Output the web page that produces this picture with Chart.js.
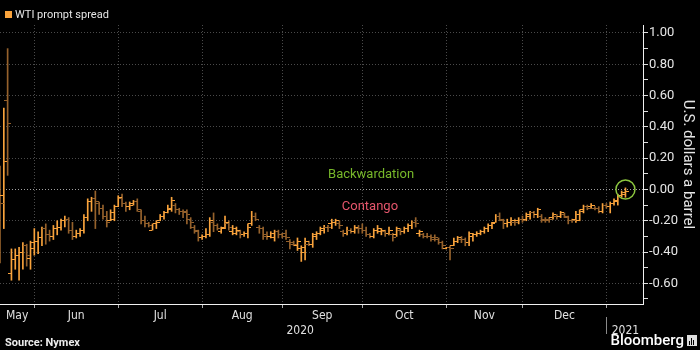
<!DOCTYPE html>
<html>
<head>
<meta charset="utf-8">
<script src="https://cdn.jsdelivr.net/npm/chart.js@4.4.0/dist/chart.umd.min.js"></script>
<style>
  html, body { margin: 0; padding: 0; background: #000; }
  #wrap { width: 700px; height: 350px; }
</style>
</head>
<body>
<div id="wrap"><canvas id="chart" width="700" height="350"></canvas></div>
<script>
// daily OHLC of the WTI prompt spread, one entry per trading day (May 18 2020 .. Jan 11 2021)
const opens = [
  -0.05, -0.04, 0.57, -0.54, -0.45, -0.42, -0.40, -0.36, -0.44,
  -0.38, -0.33, -0.31, -0.25, -0.29, -0.30, -0.25, -0.24, -0.20, -0.19, -0.26, -0.30, -0.28, -0.26, -0.18, -0.08, -0.06, -0.09, -0.12, -0.17, -0.20, -0.19,
  -0.11, -0.06, -0.09, -0.11, -0.09, -0.08, -0.14, -0.20, -0.22, -0.26, -0.22, -0.20, -0.17, -0.15, -0.13, -0.10, -0.13, -0.14, -0.15, -0.19, -0.24, -0.27,
  -0.31, -0.30, -0.29, -0.21, -0.23, -0.27, -0.24, -0.22, -0.27, -0.28, -0.27, -0.29, -0.28, -0.22, -0.17, -0.24, -0.25, -0.29, -0.30, -0.31, -0.27,
  -0.29, -0.28, -0.33, -0.34, -0.36, -0.38, -0.40, -0.35, -0.35, -0.30, -0.28, -0.26, -0.24, -0.22, -0.21, -0.22, -0.27, -0.28, -0.26, -0.27, -0.25,
  -0.25, -0.26, -0.29, -0.30, -0.26, -0.27, -0.27, -0.28, -0.29, -0.29, -0.26, -0.27, -0.25, -0.23, -0.21, -0.28, -0.29, -0.30, -0.30, -0.31, -0.32, -0.34,
  -0.38, -0.37, -0.36, -0.33, -0.32, -0.32, -0.34, -0.30, -0.29, -0.28, -0.27, -0.25, -0.23, -0.21, -0.17, -0.20, -0.22, -0.21, -0.21, -0.20,
  -0.19, -0.19, -0.17, -0.15, -0.16, -0.17, -0.19, -0.19, -0.18, -0.17, -0.17, -0.16, -0.18, -0.20, -0.19, -0.20, -0.13, -0.11, -0.11, -0.12, -0.12, -0.14,
  -0.10, -0.11, -0.09, -0.08, -0.04, -0.03
];
const highs = [
  0.15, 0.52, 0.90, -0.38, -0.38, -0.37, -0.34, -0.35, -0.33,
  -0.25, -0.27, -0.24, -0.22, -0.26, -0.23, -0.20, -0.19, -0.17, -0.18, -0.21, -0.26, -0.25, -0.16, -0.06, -0.05, -0.01, -0.08, -0.10, -0.14, -0.13, -0.10,
  -0.04, -0.03, -0.08, -0.08, -0.07, -0.06, -0.13, -0.17, -0.21, -0.22, -0.20, -0.16, -0.14, -0.10, -0.05, -0.09, -0.12, -0.13, -0.13, -0.18, -0.23, -0.26,
  -0.29, -0.25, -0.18, -0.15, -0.22, -0.24, -0.17, -0.20, -0.23, -0.24, -0.26, -0.27, -0.22, -0.14, -0.15, -0.23, -0.24, -0.27, -0.27, -0.26, -0.26,
  -0.28, -0.26, -0.32, -0.33, -0.31, -0.36, -0.31, -0.33, -0.28, -0.27, -0.24, -0.23, -0.23, -0.19, -0.19, -0.20, -0.26, -0.24, -0.25, -0.23, -0.23,
  -0.22, -0.24, -0.28, -0.25, -0.23, -0.25, -0.26, -0.24, -0.28, -0.24, -0.25, -0.24, -0.22, -0.20, -0.18, -0.26, -0.28, -0.28, -0.29, -0.29, -0.31, -0.33,
  -0.37, -0.36, -0.31, -0.30, -0.30, -0.31, -0.27, -0.28, -0.27, -0.26, -0.24, -0.22, -0.21, -0.16, -0.15, -0.19, -0.19, -0.18, -0.19, -0.18,
  -0.17, -0.15, -0.14, -0.14, -0.12, -0.16, -0.18, -0.18, -0.15, -0.16, -0.14, -0.15, -0.17, -0.19, -0.14, -0.13, -0.10, -0.10, -0.09, -0.11, -0.11, -0.09,
  -0.09, -0.08, -0.06, -0.03, -0.01, 0.01
];
const lows = [
  -0.47, -0.25, 0.09, -0.58, -0.51, -0.58, -0.51, -0.49, -0.51,
  -0.42, -0.41, -0.36, -0.35, -0.33, -0.32, -0.29, -0.26, -0.24, -0.28, -0.32, -0.31, -0.30, -0.28, -0.20, -0.14, -0.25, -0.16, -0.19, -0.24, -0.20, -0.20,
  -0.11, -0.11, -0.14, -0.13, -0.10, -0.14, -0.22, -0.24, -0.24, -0.26, -0.25, -0.20, -0.19, -0.15, -0.14, -0.15, -0.16, -0.18, -0.22, -0.25, -0.28, -0.33,
  -0.32, -0.31, -0.30, -0.27, -0.26, -0.28, -0.25, -0.26, -0.29, -0.29, -0.31, -0.30, -0.31, -0.23, -0.20, -0.28, -0.32, -0.32, -0.31, -0.33, -0.31,
  -0.31, -0.32, -0.38, -0.36, -0.39, -0.46, -0.45, -0.36, -0.37, -0.32, -0.29, -0.28, -0.27, -0.25, -0.23, -0.25, -0.30, -0.29, -0.28, -0.28, -0.28,
  -0.28, -0.30, -0.31, -0.31, -0.28, -0.29, -0.30, -0.29, -0.33, -0.30, -0.29, -0.28, -0.27, -0.25, -0.24, -0.30, -0.31, -0.31, -0.33, -0.33, -0.35, -0.38,
  -0.38, -0.45, -0.36, -0.34, -0.34, -0.36, -0.36, -0.33, -0.30, -0.29, -0.28, -0.27, -0.25, -0.21, -0.20, -0.25, -0.24, -0.23, -0.23, -0.22,
  -0.21, -0.20, -0.19, -0.18, -0.18, -0.21, -0.21, -0.21, -0.19, -0.19, -0.18, -0.18, -0.22, -0.21, -0.21, -0.20, -0.15, -0.13, -0.12, -0.13, -0.15, -0.15,
  -0.12, -0.15, -0.10, -0.10, -0.05, -0.05
];
const closes = [
  -0.09, 0.18, 0.42, -0.45, -0.42, -0.40, -0.36, -0.42, -0.34,
  -0.33, -0.31, -0.25, -0.29, -0.30, -0.25, -0.24, -0.20, -0.19, -0.26, -0.30, -0.28, -0.26, -0.18, -0.08, -0.06, -0.08, -0.12, -0.17, -0.21, -0.15, -0.11,
  -0.05, -0.09, -0.11, -0.10, -0.08, -0.13, -0.20, -0.22, -0.23, -0.22, -0.21, -0.17, -0.15, -0.12, -0.07, -0.13, -0.14, -0.14, -0.16, -0.21, -0.26, -0.31,
  -0.30, -0.29, -0.20, -0.23, -0.25, -0.25, -0.21, -0.24, -0.25, -0.26, -0.29, -0.28, -0.24, -0.17, -0.19, -0.25, -0.30, -0.30, -0.28, -0.27, -0.29,
  -0.30, -0.31, -0.35, -0.35, -0.33, -0.37, -0.33, -0.35, -0.29, -0.28, -0.25, -0.24, -0.24, -0.21, -0.20, -0.23, -0.28, -0.26, -0.27, -0.24, -0.25,
  -0.26, -0.29, -0.30, -0.26, -0.25, -0.26, -0.28, -0.26, -0.31, -0.25, -0.27, -0.25, -0.23, -0.21, -0.22, -0.27, -0.30, -0.30, -0.32, -0.31, -0.34, -0.36,
  -0.37, -0.38, -0.33, -0.31, -0.32, -0.34, -0.28, -0.29, -0.28, -0.27, -0.25, -0.23, -0.22, -0.17, -0.19, -0.22, -0.21, -0.20, -0.21, -0.19,
  -0.20, -0.16, -0.15, -0.16, -0.13, -0.20, -0.20, -0.19, -0.16, -0.17, -0.15, -0.17, -0.20, -0.20, -0.16, -0.14, -0.11, -0.12, -0.10, -0.12, -0.14, -0.10,
  -0.11, -0.09, -0.07, -0.04, -0.02, -0.01
];

// axis labelling (positions are trading-day indexes)
const monthStarts = [9, 31, 53, 74, 95, 117, 137, 159];
const monthLabels = ['May', 'Jun', 'Jul', 'Aug', 'Sep', 'Oct', 'Nov', 'Dec'];
const monthMids = [4.5, 20, 42, 63.5, 84.5, 106, 127, 148];
const yearLabels = ['2020', '2021'];
const yearMids = [78.7, 164];
const yearBreak = 159;
const yMajor = [-0.6, -0.4, -0.2, 0, 0.2, 0.4, 0.6, 0.8, 1.0];
const yMajorLabels = ['-0.60', '-0.40', '-0.20', '0.00', '0.20', '0.40', '0.60', '0.80', '1.00'];
const yMinor = [-0.7, -0.5, -0.3, -0.1, 0.1, 0.3, 0.5, 0.7, 0.9];
const highlight = [{ x: 164, y: 0 }];

const seriesName = 'WTI prompt spread';
const bright = '#f9a33c';
const dark = '#96622c';
const labelFont = "'Liberation Sans Narrow', 'DejaVu Sans Condensed', Roboto, sans-serif";

const up = closes.map((c, i) => c > opens[i]);

function tickImage(color, side) {
  const c = document.createElement('canvas');
  c.width = 7;
  c.height = 1;
  const g = c.getContext('2d');
  g.fillStyle = color;
  g.fillRect(side === 'left' ? 0 : 4, 0, 3, 1);
  return c;
}
const openBright = tickImage(bright, 'left');
const openDark = tickImage(dark, 'left');
const closeBright = tickImage(bright, 'right');
const closeDark = tickImage(dark, 'right');

function isMajor(v) {
  return yMajor.findIndex(m => Math.abs(m - v) < 1e-6);
}

// the label axes must not push the plot area inwards
function noSidePadding(s) {
  s.paddingLeft = 0;
  s.paddingRight = 0;
}

const decorations = {
  id: 'decorations',
  afterDraw(chart) {
    const ctx = chart.ctx;
    const xs = chart.scales.x;
    const ys = chart.scales.y;
    ctx.save();

    // legend
    ctx.fillStyle = bright;
    ctx.fillRect(5, 11, 7, 7);
    ctx.font = '11px Roboto';
    ctx.fillStyle = '#e6e6e6';
    ctx.textBaseline = 'middle';
    ctx.fillText(seriesName, 15, 15);

    // zone labels
    ctx.font = '13px Roboto';
    ctx.textAlign = 'center';
    ctx.fillStyle = '#77b82a';
    ctx.fillText('Backwardation', xs.getPixelForValue(97.3), ys.getPixelForValue(0.093));
    ctx.fillStyle = '#e5566c';
    ctx.fillText('Contango', xs.getPixelForValue(97), ys.getPixelForValue(-0.112));

    // year separator
    const sx = Math.round(chart.scales.xYears.getPixelForValue(yearBreak)) + 0.5;
    ctx.strokeStyle = '#8a8a8a';
    ctx.lineWidth = 1;
    ctx.beginPath();
    ctx.moveTo(sx, 317);
    ctx.lineTo(sx, 334);
    ctx.stroke();

    // footer
    ctx.textAlign = 'left';
    ctx.font = 'bold 11px Roboto';
    ctx.fillStyle = '#eeeeee';
    ctx.fillText('Source: Nymex', 5, 343);
    ctx.textAlign = 'right';
    ctx.font = '500 15px Roboto';
    ctx.fillStyle = '#ffffff';
    ctx.fillText('Bloomberg', 684, 341);
    ctx.fillStyle = '#dddddd';
    ctx.fillRect(687, 335, 10, 11);
    ctx.fillStyle = '#000';
    ctx.fillRect(689, 341, 1, 4);
    ctx.fillRect(691, 338, 1, 7);
    ctx.fillRect(693, 340, 1, 5);
    ctx.restore();
  }
};

new Chart(document.getElementById('chart'), {
  type: 'bar',
  data: {
    datasets: [{
      label: seriesName,
      data: highs.map((h, i) => ({ x: i, y: [lows[i], h] })),
      backgroundColor: ctx => up[ctx.dataIndex] ? bright : dark,
      barThickness: 1,
      borderWidth: 0,
      order: 3
    }, {
      type: 'scatter',
      label: 'open',
      data: opens.map((o, i) => ({ x: i, y: o })),
      pointStyle: ctx => up[ctx.dataIndex] ? openBright : openDark,
      pointRadius: 3,
      showLine: false,
      order: 2
    }, {
      type: 'scatter',
      label: 'close',
      data: closes.map((c, i) => ({ x: i, y: c })),
      pointStyle: ctx => up[ctx.dataIndex] ? closeBright : closeDark,
      pointRadius: 3,
      showLine: false,
      order: 2
    }, {
      type: 'scatter',
      label: 'latest',
      data: highlight,
      pointStyle: 'circle',
      pointRadius: 9.5,
      backgroundColor: 'rgba(0,0,0,0)',
      borderColor: '#8cc63f',
      borderWidth: 1.5,
      showLine: false,
      clip: false,
      order: 1
    }]
  },
  options: {
    responsive: false,
    animation: false,
    layout: { autoPadding: false, padding: { top: 25, bottom: 12, left: 0, right: 0 } },
    plugins: {
      legend: { display: false },
      tooltip: { enabled: false }
    },
    scales: {
      x: {
        type: 'linear',
        position: 'bottom',
        weight: 0,
        min: 0,
        max: 168.6,
        offset: false,
        afterBuildTicks: s => { s.ticks = monthStarts.map(v => ({ value: v })); },
        afterFit: s => { s.height = 4; noSidePadding(s); },
        ticks: { display: false },
        grid: { color: '#4a4a4a', tickColor: '#aaaaaa', tickLength: 4, offset: false, tickBorderDash: [] },
        border: { display: true, color: '#f0f0f0', width: 1, dash: [1, 2] }
      },
      xMonths: {
        type: 'linear',
        position: 'bottom',
        weight: 1,
        min: 0,
        max: 168.6,
        offset: false,
        afterBuildTicks: s => { s.ticks = monthMids.map(v => ({ value: v })); },
        afterFit: s => { s.height = 15; noSidePadding(s); },
        ticks: {
          autoSkip: false,
          maxRotation: 0,
          padding: 1,
          color: '#e0e0e0',
          font: { family: labelFont, size: 12 },
          callback: (v, i) => monthLabels[i]
        },
        grid: { display: false, drawTicks: false },
        border: { display: false }
      },
      xYears: {
        type: 'linear',
        position: 'bottom',
        weight: 2,
        min: 0,
        max: 168.6,
        offset: false,
        afterBuildTicks: s => { s.ticks = yearMids.map(v => ({ value: v })); },
        afterFit: s => { s.height = 15; noSidePadding(s); },
        ticks: {
          autoSkip: false,
          maxRotation: 0,
          padding: 1,
          color: '#e0e0e0',
          font: { family: labelFont, size: 12 },
          callback: (v, i) => yearLabels[i]
        },
        grid: { display: false, drawTicks: false },
        border: { display: false }
      },
      y: {
        type: 'linear',
        position: 'right',
        min: -0.732,
        max: 1.051,
        afterBuildTicks: s => {
          s.ticks = yMajor.concat(yMinor).sort((a, b) => a - b).map(v => ({ value: v }));
        },
        afterFit: s => { s.width = 57; },
        ticks: {
          autoSkip: false,
          padding: 1,
          color: '#e6e6e6',
          font: { family: 'Roboto', size: 13 },
          callback: v => {
            const k = isMajor(v);
            return k >= 0 ? yMajorLabels[k] : '';
          }
        },
        grid: {
          color: ctx => {
            const v = ctx.tick.value;
            if (Math.abs(v) < 1e-6) return '#a0a0a0';
            return isMajor(v) >= 0 ? '#4a4a4a' : 'rgba(0,0,0,0)';
          },
          tickColor: '#dddddd',
          tickLength: 5,
          tickBorderDash: []
        },
        border: { display: true, color: '#f0f0f0', width: 1, dash: [1, 2] },
        title: {
          display: true,
          text: 'U.S. dollars a barrel',
          color: '#e6e6e6',
          font: { family: 'Roboto', size: 15 },
          padding: { top: 3, bottom: 0 }
        }
      }
    }
  },
  plugins: [decorations]
});
</script>
</body>
</html>
